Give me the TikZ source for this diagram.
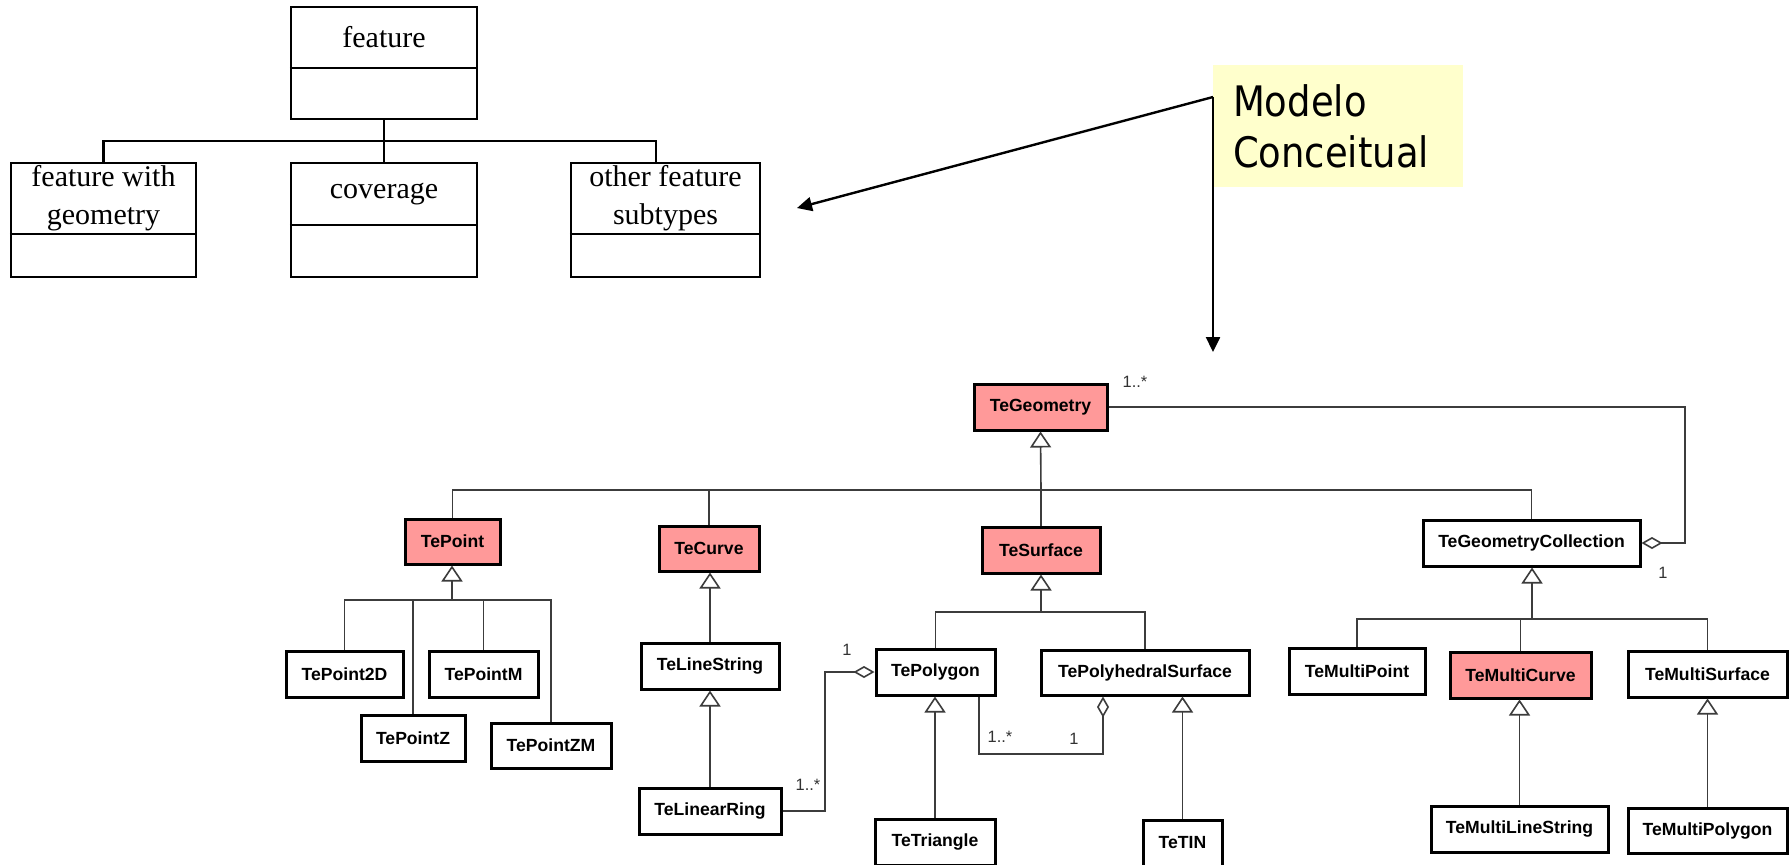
\documentclass[tikz,border=0pt]{standalone}
\usepackage{fontspec}
\setmainfont{Liberation Serif}
\newfontfamily\umlfont{Liberation Sans}
\newfontfamily\notefont[FakeStretch=0.88]{DejaVu Sans}
\usetikzlibrary{arrows.meta,calc}
\definecolor{umlpink}{RGB}{255,153,153}
\definecolor{noteyellow}{RGB}{255,255,204}
\definecolor{linegray}{RGB}{60,60,60}
\definecolor{labelgray}{RGB}{50,50,50}
\begin{document}
\begin{tikzpicture}[x=0.5pt,y=-0.5pt,
  cls/.style 2 args={draw=black, line width=1.5pt, fill=white, inner sep=0pt,
    minimum width=#1, minimum height=#2,
    font=\umlfont\bfseries\fontsize{8.8}{10}\selectfont},
  hot/.style={fill=umlpink},
  tlbox/.style 2 args={draw=black, line width=1.1pt, inner sep=0pt,
    minimum width=#1, minimum height=#2},
  tltext/.style={inner sep=0pt, align=center, font=\fontsize{15}{19}\selectfont},
  tlline/.style={draw=black, line width=1.1pt},
  conn/.style={draw=linegray, line width=0.8pt},
  inh/.style={conn, -{Triangle[open,length=8pt,width=10.5pt]}},
  agg/.style={conn, -{Diamond[open,length=10.5pt,width=6pt]}},
  mult/.style={inner sep=0pt, text=labelgray, font=\umlfont\fontsize{8.2}{9.8}\selectfont},
  note/.style={fill=noteyellow, inner xsep=10pt, inner ysep=0pt, text width=105pt,
    minimum height=61pt, align=left, font=\notefont\fontsize{21}{25.5}\selectfont},
  notearrow/.style={draw=black, line width=1.2pt, -{Triangle[length=7.5pt,width=7pt]}}
]
\fill[white] (0,0) rectangle (1792,864);
\useasboundingbox (0,0) rectangle (1792,864);

% ---------- top-left feature model ----------
\node[tlbox={93pt}{56pt}] (feat) at (384,63) {};
\node[tlbox={92.5pt}{57pt}] (fwg) at (103.5,220) {};
\node[tlbox={93pt}{57pt}] (cov) at (384,220) {};
\node[tlbox={94.5pt}{57pt}] (oth) at (665.5,220) {};
\draw[tlline] (feat.west |- 0,68) -- (feat.east |- 0,68);
\draw[tlline] (fwg.west |- 0,234) -- (fwg.east |- 0,234);
\draw[tlline] (cov.west |- 0,225) -- (cov.east |- 0,225);
\draw[tlline] (oth.west |- 0,234) -- (oth.east |- 0,234);
\node[tltext] (featT) at (384,37.5) {feature};
\node[tltext] (fwgT) at (103.5,198.5) {feature with\\geometry};
\node[tltext] (covT) at (384,194) {coverage};
\node[tltext] (othT) at (665.5,198.5) {other feature\\subtypes};
\coordinate (tb) at (384,141);
\coordinate (othtop) at (656,163);
\draw[tlline] (feat.south) -- (tb) -- (cov.north);
\draw[tlline] (fwg.north) |- (tb) -| (othtop);

% ---------- note ----------
\node[note] (modelo) at (1338,126) {Modelo\\Conceitual};
\coordinate (mcorner) at (1213,97);
\coordinate (tipA) at (797,208);
\coordinate (tipB) at (1213,352);
\draw[notearrow] (mcorner) -- (tipA);
\draw[notearrow] (mcorner) -- (tipB);

% ---------- UML classes ----------
\node[cls={66.5pt}{23pt}, hot] (TeGeometry) at (1040.5,407) {TeGeometry};
\node[cls={47.5pt}{22.5pt}, hot] (TePoint) at (452.5,541.5) {TePoint};
\node[cls={50pt}{22.5pt}, hot] (TeCurve) at (709,548.5) {TeCurve};
\node[cls={59pt}{23pt}, hot] (TeSurface) at (1041,550) {TeSurface};
\node[cls={108.5pt}{23pt}] (TeGeometryCollection) at (1531.5,543) {TeGeometryCollection};
\node[cls={58.5pt}{23pt}] (TePoint2D) at (344.5,674) {TePoint2D};
\node[cls={54.5pt}{23pt}] (TePointM) at (483.5,674) {TePointM};
\node[cls={52pt}{23pt}] (TePointZ) at (413,738) {TePointZ};
\node[cls={60pt}{22.5pt}] (TePointZM) at (551,745.5) {TePointZM};
\node[cls={69pt}{23pt}] (TeLineString) at (710,666) {TeLineString};
\node[cls={71pt}{23pt}] (TeLinearRing) at (710,811) {TeLinearRing};
\node[cls={59.5pt}{23pt}] (TePolygon) at (935.5,672) {TePolygon};
\node[cls={60pt}{23pt}] (TeTriangle) at (935,842) {TeTriangle};
\node[cls={104pt}{22.5pt}] (TePolyhedralSurface) at (1145,672.5) {TePolyhedralSurface};
\node[cls={39.5pt}{23pt}] (TeTIN) at (1182.5,843) {TeTIN};
\node[cls={68pt}{23pt}] (TeMultiPoint) at (1357,671) {TeMultiPoint};
\node[cls={70.5pt}{23pt}, hot] (TeMultiCurve) at (1520.5,675) {TeMultiCurve};
\node[cls={79.5pt}{23pt}] (TeMultiSurface) at (1707.5,674) {TeMultiSurface};
\node[cls={88.5pt}{23pt}] (TeMultiLineString) at (1519.5,829) {TeMultiLineString};
\node[cls={79.5pt}{22.5pt}] (TeMultiPolygon) at (1707.5,830.5) {TeMultiPolygon};

% ---------- generalisations ----------
\coordinate (gbus) at (1041,490);
\draw[inh] (gbus) -- (TeGeometry.south);
\draw[conn] (TePoint.north) |- (gbus);
\draw[conn] (TeCurve.north) |- (gbus);
\draw[conn] (TeSurface.north) -- (gbus);
\draw[conn] (TeGeometryCollection.north) |- (gbus);

\coordinate (pbus) at (452,600);
\draw[inh] (pbus) -- (TePoint.south -| pbus);
\draw[conn] (TePoint2D.north) |- (pbus);
\draw[conn] (TePointZ.north) |- (pbus);
\draw[conn] (TePointM.north) |- (pbus);
\draw[conn] (TePointZM.north) |- (pbus);

\draw[inh] (TeLineString.north) -- (TeLineString.north |- TeCurve.south);
\draw[inh] (TeLinearRing.north) -- (TeLineString.south);

\coordinate (sbus) at (1041,612);
\draw[inh] (sbus) -- (TeSurface.south);
\draw[conn] (TePolygon.north) |- (sbus);
\draw[conn] (TePolyhedralSurface.north) |- (sbus);
\draw[inh] (TeTriangle.north) -- (TeTriangle.north |- TePolygon.south);
\draw[inh] (TeTIN.north) -- (TeTIN.north |- TePolyhedralSurface.south);

\coordinate (cbus) at (1532,619);
\draw[inh] (cbus) -- (TeGeometryCollection.south -| cbus);
\draw[conn] (TeMultiPoint.north) |- (cbus);
\draw[conn] (TeMultiCurve.north) |- (cbus);
\draw[conn] (TeMultiSurface.north) |- (cbus);
\draw[inh] (TeMultiLineString.north) -- (TeMultiLineString.north |- TeMultiCurve.south);
\draw[inh] (TeMultiPolygon.north) -- (TeMultiPolygon.north |- TeMultiSurface.south);

% ---------- aggregations ----------
\coordinate (g1) at (1685,407);
\coordinate (g2) at (1685,543);
\draw[agg] (TeGeometry.east) -- (g1) -- (g2) -- (TeGeometryCollection.east);
\node[mult] (m1) at (1135,382) {1..*};
\node[mult] (m2) at (1663,573) {1};

\coordinate (r1) at (825,811);
\coordinate (r2) at (825,672);
\draw[agg] (TeLinearRing.east) -- (r1) -- (r2) -- (TePolygon.west);
\node[mult] (m3) at (847,650) {1};
\node[mult] (m4) at (808,785) {1..*};

\coordinate (p1) at (979,754);
\coordinate (p2) at (1103,754);
\draw[agg] (p1 |- TePolygon.south) -- (p1) -- (p2) -- (p2 |- TePolyhedralSurface.south);
\node[mult] (m5) at (1000,737) {1..*};
\node[mult] (m6) at (1074,739) {1};
\end{tikzpicture}
\end{document}
